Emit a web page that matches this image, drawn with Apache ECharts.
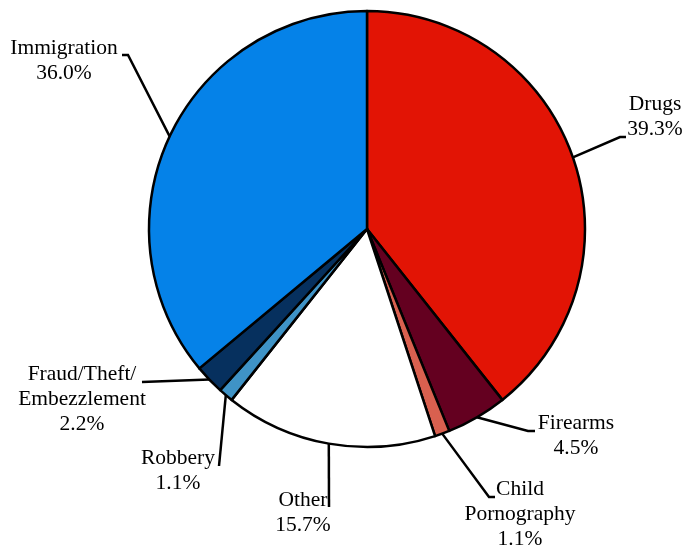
<!DOCTYPE html>
<html>
<head>
<meta charset="utf-8">
<script src="https://cdn.jsdelivr.net/npm/echarts@6/dist/echarts.min.js"></script>
<style>html,body{margin:0;padding:0;background:#fff}#c{width:686px;height:552px}</style>
</head>
<body>
<div id="c"></div>
<script>
var categories = ['Drugs', 'Firearms', 'Child\nPornography', 'Other', 'Robbery', 'Fraud/Theft/\nEmbezzlement', 'Immigration'];
var values = [39.3, 4.5, 1.1, 15.7, 1.1, 2.2, 36.0];
var colors = ['#E21405', '#640020', '#D9604F', '#FFFFFF', '#3F93C6', '#06305E', '#0582E8'];

// label placement: text block centre x / top y, and leader knee/end points
var labelLayouts = [
  { cx: 655, top: 92,  pts: [[620, 137], [626, 137]] },
  { cx: 576, top: 411, pts: [[528, 431], [535, 431]] },
  { cx: 520, top: 477, pts: [[489, 497], [495, 497]] },
  { cx: 303, top: 488, pts: [[329, 507]] },
  { cx: 178, top: 446, pts: [[219, 466]] },
  { cx: 82,  top: 362, pts: [[142, 382]] },
  { cx: 64,  top: 36,  pts: [[128, 55], [122, 55]] }
];

var chart = echarts.init(document.getElementById('c'), null, { renderer: 'canvas' });
chart.setOption({
  animation: false,
  series: [{
    type: 'pie',
    center: [367, 229],
    radius: 218,
    startAngle: 90,
    clockwise: true,
    avoidLabelOverlap: false,
    data: categories.map(function (c, i) {
      return { name: c, value: values[i], itemStyle: { color: colors[i] } };
    }),
    itemStyle: { borderColor: '#000', borderWidth: 2.5 },
    label: {
      show: true,
      position: 'outside',
      formatter: function (p) { return p.name + '\n' + p.value.toFixed(1) + '%'; },
      fontFamily: 'Liberation Serif',
      fontSize: 21.5,
      lineHeight: 25,
      color: '#000',
      align: 'center'
    },
    labelLine: {
      show: true,
      lineStyle: { color: '#000', width: 2.5 }
    },
    emphasis: { disabled: true },
    labelLayout: function (params) {
      var L = labelLayouts[params.dataIndex];
      var edge = params.labelLinePoints ? params.labelLinePoints[0] : L.pts[0];
      var pts = [[edge[0], edge[1]]].concat(L.pts);
      if (pts.length === 2) { pts.push(L.pts[0]); }
      return {
        x: L.cx,
        y: L.top,
        align: 'center',
        verticalAlign: 'top',
        labelLinePoints: pts
      };
    }
  }]
});
</script>
</body>
</html>
